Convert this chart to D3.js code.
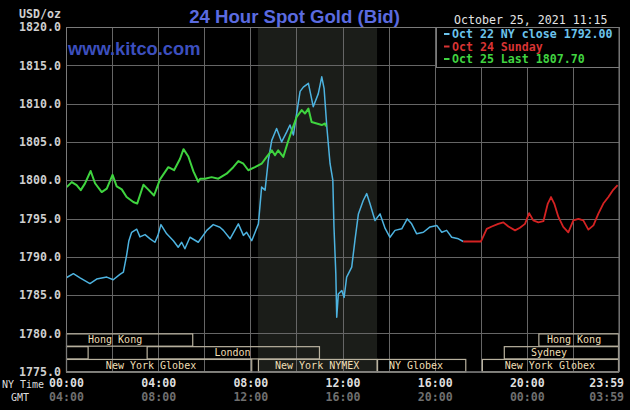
<!DOCTYPE html>
<html><head><meta charset="utf-8">
<script src="https://cdn.jsdelivr.net/npm/d3@7"></script>
<style>html,body{margin:0;padding:0;background:#000;overflow:hidden}svg{display:block}</style>
</head><body>
<svg id="c" width="630" height="410"></svg>
<script>
// ---- data (hours in NY time, USD/oz) ----
const blueHours = [0.03,0.32,0.61,1.04,1.33,1.77,2.05,2.34,2.49,2.63,2.73,2.85,3.07,3.21,3.43,3.65,3.86,3.99,4.12,4.37,4.66,4.87,5.02,5.16,5.38,5.74,6.11,6.39,6.68,6.83,7.12,7.48,7.70,7.84,8.06,8.35,8.49,8.64,8.78,8.93,9.14,9.36,9.58,9.72,9.87,10.01,10.16,10.30,10.52,10.73,10.95,11.10,11.20,11.32,11.46,11.58,11.63,11.71,11.75,11.82,11.97,12.07,12.18,12.40,12.54,12.69,12.90,13.05,13.19,13.41,13.63,13.85,14.06,14.28,14.57,14.81,15.00,15.22,15.51,15.80,16.09,16.31,16.52,16.74,17.03,17.24];
const blueValues = [1787.3,1787.8,1787.25,1786.5,1787.1,1787.35,1787.0,1787.7,1788.0,1790.2,1792.1,1793.2,1793.6,1792.6,1792.9,1792.35,1791.9,1792.8,1794.2,1793.0,1792.1,1791.25,1791.9,1791.05,1792.55,1791.9,1793.45,1794.2,1793.85,1793.45,1792.35,1794.3,1792.8,1793.2,1792.1,1794.3,1799.1,1798.7,1802.6,1805.2,1806.75,1805.0,1806.3,1807.2,1805.9,1808.7,1811.6,1812.15,1812.65,1809.6,1811.3,1813.5,1812.0,1806.95,1802.15,1800.0,1793.9,1787.8,1782.1,1785.15,1785.6,1784.7,1787.35,1788.65,1792.15,1795.6,1797.35,1798.25,1796.95,1794.75,1795.6,1793.7,1792.55,1793.45,1793.65,1794.95,1794.3,1793.0,1793.2,1793.9,1794.1,1793.2,1793.45,1792.55,1792.35,1792.0];

const redHours = [17.24,18.01,18.26,18.48,18.76,18.98,19.20,19.49,19.70,19.92,20.10,20.28,20.50,20.72,20.91,21.05,21.19,21.37,21.58,21.80,22.02,22.24,22.45,22.67,22.89,23.10,23.32,23.54,23.75,23.94];
const redValues = [1792.0,1792.0,1793.65,1793.95,1794.3,1794.5,1793.95,1793.45,1793.8,1794.3,1795.7,1794.75,1794.5,1794.65,1796.95,1797.8,1796.95,1795.2,1793.9,1793.2,1794.75,1794.95,1794.75,1793.55,1794.1,1795.6,1796.95,1797.8,1798.75,1799.35];

const greenHours = [0.03,0.25,0.46,0.64,0.82,1.07,1.26,1.55,1.77,2.02,2.20,2.42,2.63,2.92,3.09,3.36,3.53,3.82,4.08,4.44,4.69,4.95,5.10,5.31,5.53,5.74,5.82,6.03,6.32,6.61,6.97,7.26,7.48,7.70,7.91,8.20,8.49,8.71,8.93,9.07,9.21,9.43,9.61,9.80,10.01,10.23,10.37,10.52,10.66,10.88,11.10,11.24,11.28];
const greenValues = [1799.1,1799.75,1799.35,1798.7,1799.55,1801.2,1799.6,1798.45,1798.9,1800.7,1799.2,1798.8,1797.8,1797.15,1796.95,1799.4,1798.9,1798.0,1800.1,1801.7,1801.3,1802.8,1804.05,1803.1,1801.15,1799.8,1800.2,1800.2,1800.4,1800.2,1800.85,1801.7,1802.5,1802.15,1801.3,1801.7,1802.15,1803.05,1803.9,1803.25,1803.9,1803.05,1804.8,1806.5,1808.25,1809.15,1808.7,1809.35,1807.6,1807.4,1807.2,1807.4,1807.0];

const yTicks = [1775,1780,1785,1790,1795,1800,1805,1810,1815,1820];
const xTickHours = [0,4,8,12,16,20,23.983];
const nyTimeLabels = ["00:00","04:00","08:00","12:00","16:00","20:00","23:59"];
const gmtLabels = ["04:00","08:00","12:00","16:00","20:00","00:00","03:59"];

const legendLabels = ["Oct 22 NY close 1792.00","Oct 24 Sunday","Oct 25 Last 1807.70"];

// sessions: row, start hour, end hour, label, label-centre hour
const sessionRows   = [0,0,1,1,1,2,2,2,2];
const sessionStart  = [0,20.5,0,3.5,19.0,0,8.33,13.5,18.05];
const sessionEnd    = [5.5,24,0.96,11.0,24,8.06,13.5,17.35,24];
const sessionLabels = ["Hong Kong","Hong Kong","","London","Sydney","New York Globex","New York NYMEX","NY Globex","New York Globex"];
const sessionLabelAt= [2.13,22.05,null,7.23,20.96,3.69,10.9,15.19,21.0];

// ---- drawing ----
const svg = d3.select("#c");
const L = 66, R = 619, T = 27, B = 371.7;
const x = d3.scaleLinear().domain([0,24]).range([L,R]);
const y = d3.scaleLinear().domain([1775,1820]).range([B,T]);
const mono = "'DejaVu Sans Mono', monospace";

svg.append("rect").attr("width",630).attr("height",410).attr("fill","#000");

// NYMEX shaded band
svg.append("rect").attr("x",x(sessionStart[6])).attr("y",T)
  .attr("width",x(sessionEnd[6])-x(sessionStart[6])).attr("height",B-T)
  .attr("fill","#1b1d19");

// grid
const gridColor = "#666666";
svg.append("g").selectAll("line").data(d3.range(0,25,2)).join("line")
  .attr("x1",d=>Math.round(x(d))+0.5).attr("x2",d=>Math.round(x(d))+0.5)
  .attr("y1",T).attr("y2",B).attr("stroke",gridColor).attr("stroke-width",1);
svg.append("g").selectAll("line").data(yTicks).join("line")
  .attr("x1",L).attr("x2",R)
  .attr("y1",d=>Math.round(y(d))+0.5).attr("y2",d=>Math.round(y(d))+0.5)
  .attr("stroke",gridColor).attr("stroke-width",1);

// watermark
svg.append("text").attr("x",68).attr("y",54.5).text("www.kitco.com")
  .attr("font-family","'Liberation Sans', Arial, sans-serif").attr("font-weight","bold")
  .attr("font-size",18.3).attr("fill","#3c4fbe");

// session boxes
const rowTop = r => y(1780) + r*(B - y(1780))/3;
const rowH = (B - y(1780))/3;
const boxColor = "#b9b29f";
const sess = d3.range(sessionRows.length);
svg.append("g").selectAll("rect").data(sess).join("rect")
  .attr("x",i=>x(sessionStart[i])+0.5).attr("y",i=>rowTop(sessionRows[i])+0.5)
  .attr("width",i=>Math.min(x(sessionEnd[i]),R-0.5)-x(sessionStart[i])-0.5)
  .attr("height",rowH-0.5)
  .attr("fill","none").attr("stroke",boxColor).attr("stroke-width",1.2);
svg.append("g").selectAll("text").data(sess.filter(i=>sessionLabels[i])).join("text")
  .attr("x",i=>x(sessionLabelAt[i])).attr("y",i=>rowTop(sessionRows[i])+rowH/2)
  .attr("dy","0.36em").attr("text-anchor","middle")
  .attr("font-family",mono).attr("font-size",10).attr("fill","#efdfb4")
  .text(i=>sessionLabels[i]);

// lines
const line = (hs,vs) => d3.line().x((d,i)=>x(hs[i])).y((d,i)=>y(vs[i]))(vs);
svg.append("path").attr("d",line(blueHours,blueValues)).attr("fill","none")
  .attr("stroke","#4db3e0").attr("stroke-width",1.5).attr("stroke-linejoin","round");
svg.append("path").attr("d",line(redHours,redValues)).attr("fill","none")
  .attr("stroke","#d42222").attr("stroke-width",1.8).attr("stroke-linejoin","round");
svg.append("path").attr("d",line(greenHours,greenValues)).attr("fill","none")
  .attr("stroke","#3fd43f").attr("stroke-width",2).attr("stroke-linejoin","round");

// plot border
svg.append("rect").attr("x",L+0.5).attr("y",T+0.5).attr("width",R-L-0.5).attr("height",B-T-0.5)
  .attr("fill","none").attr("stroke","#7a7a7a").attr("stroke-width",1);

// legend box
const lg = svg.append("g");
lg.append("rect").attr("x",436.5).attr("y",T+0.5).attr("width",R-436.5).attr("height",40)
  .attr("fill","#000").attr("stroke","#7a7a7a").attr("stroke-width",1);
const legColors = ["#6cc3ec","#d83434","#41d441"];
lg.selectAll("line").data(legendLabels).join("line")
  .attr("x1",444).attr("x2",449.5).attr("y1",(d,i)=>34+i*12.5).attr("y2",(d,i)=>34+i*12.5)
  .attr("stroke",(d,i)=>legColors[i]).attr("stroke-width",2);
lg.selectAll("text").data(legendLabels).join("text")
  .attr("x",452).attr("y",(d,i)=>34+i*12.5).attr("dy","0.35em")
  .attr("font-family",mono).attr("font-weight","bold").attr("font-size",11.6)
  .attr("fill",(d,i)=>legColors[i])
  .text(d=>d);

// y axis
const ya = svg.append("g").attr("transform",`translate(${L},0)`)
  .call(d3.axisLeft(y).tickValues(yTicks).tickFormat(d3.format(".1f")).tickSize(0).tickPadding(5));
ya.select(".domain").remove();
ya.selectAll("text").attr("font-family",mono).attr("font-weight","bold").attr("font-size",11.6)
  .attr("fill","#cfcfcf");

// x axes (NY time and GMT)
const xa = svg.append("g").attr("transform","translate(0,383)")
  .call(d3.axisBottom(x).tickValues(xTickHours).tickFormat((d,i)=>nyTimeLabels[i]).tickSize(0));
xa.select(".domain").remove();
xa.selectAll("text").attr("y",0).attr("dy","0.35em").attr("font-family",mono)
  .attr("font-weight","bold").attr("font-size",11.6).attr("fill","#dedede");
xa.selectAll("text").filter((d,i)=>i===xTickHours.length-1).attr("text-anchor","end").attr("dx",5);

const xg = svg.append("g").attr("transform","translate(0,397)")
  .call(d3.axisBottom(x).tickValues(xTickHours).tickFormat((d,i)=>gmtLabels[i]).tickSize(0));
xg.select(".domain").remove();
xg.selectAll("text").attr("y",0).attr("dy","0.35em").attr("font-family",mono)
  .attr("font-weight","bold").attr("font-size",11.6).attr("fill","#6f6f6f");
xg.selectAll("text").filter((d,i)=>i===xTickHours.length-1).attr("text-anchor","end").attr("dx",5);

svg.append("text").attr("x",2).attr("y",384).attr("dy","0.35em")
  .attr("font-family",mono).attr("font-size",10).attr("fill","#dedede").text("NY Time");
svg.append("text").attr("x",11).attr("y",397).attr("dy","0.35em")
  .attr("font-family",mono).attr("font-size",10).attr("fill","#dedede").text("GMT");

// header texts
svg.append("text").attr("x",61).attr("y",13.5).attr("dy","0.35em").attr("text-anchor","end")
  .attr("font-family",mono).attr("font-weight","bold").attr("font-size",11.6).attr("fill","#cfcfcf")
  .text("USD/oz");
svg.append("text").attr("x",294.5).attr("y",23).attr("text-anchor","middle")
  .attr("font-family","'Liberation Sans', Arial, sans-serif").attr("font-weight","bold")
  .attr("font-size",18.6).attr("fill","#5b6be0").text("24 Hour Spot Gold (Bid)");
svg.append("text").attr("x",454).attr("y",19.5).attr("dy","0.35em")
  .attr("font-family",mono).attr("font-size",11.6).attr("fill","#e4e4e4")
  .text("October 25, 2021 11:15");
</script>
</body></html>
